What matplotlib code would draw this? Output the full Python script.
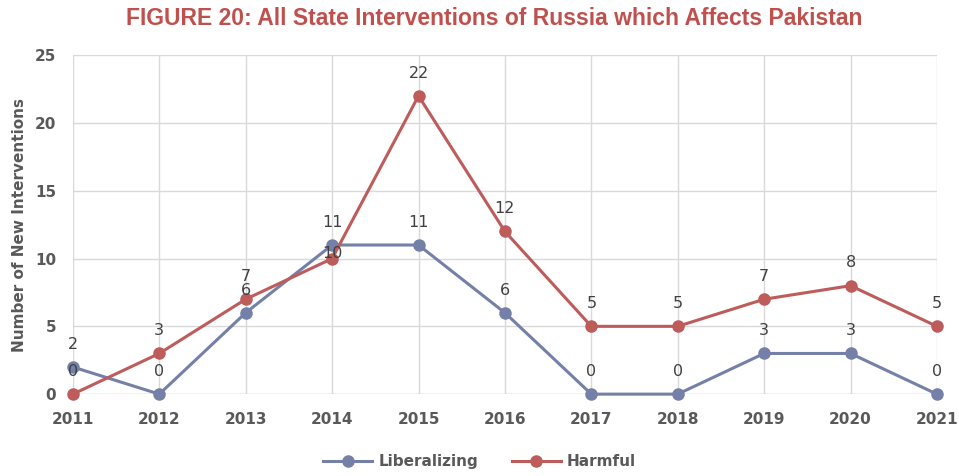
import matplotlib
matplotlib.use('Agg')
from matplotlib import pyplot as plt

years = [2011, 2012, 2013, 2014, 2015, 2016, 2017, 2018, 2019, 2020, 2021]
liberalizing = [2, 0, 6, 11, 11, 6, 0, 0, 3, 3, 0]
harmful = [0, 3, 7, 10, 22, 12, 5, 5, 7, 8, 5]

c_lib = '#7480A7'
c_harm = '#BE5B5B'
grey = '#595959'

fig = plt.figure(figsize=(9.59, 4.76), dpi=100)
ax = fig.add_axes([0.076, 0.172, 0.901, 0.712])

ax.plot(years, liberalizing, color=c_lib, lw=2.2, marker='o', ms=8, clip_on=False,
        zorder=3, label='Liberalizing')
ax.plot(years, harmful, color=c_harm, lw=2.2, marker='o', ms=8, clip_on=False,
        zorder=3, label='Harmful')

# data labels above points (Excel nudged the 2014 harmful one)
for x, y in zip(years, liberalizing):
    ax.annotate(str(y), (x, y), xytext=(0, 11), textcoords='offset points',
                ha='center', va='bottom', fontsize=11.5, color='#404040')
for x, y in zip(years, harmful):
    dy = -2 if x == 2014 else 11
    ax.annotate(str(y), (x, y), xytext=(0, dy), textcoords='offset points',
                ha='center', va='bottom', fontsize=11.5, color='#404040')

ax.set_xlim(2011, 2021)
ax.set_ylim(0, 25)
ax.set_xticks(years)
ax.set_yticks(range(0, 26, 5))
ax.grid(True, color='#D9D9D9', lw=1)
ax.set_axisbelow(True)
for s in ax.spines.values():
    s.set_visible(False)
ax.axhline(0, color='#D9D9D9', lw=1, zorder=1)
ax.tick_params(length=0, labelsize=11, labelcolor=grey)
ax.tick_params(axis='x', pad=13)
ax.tick_params(axis='y', pad=12)
for t in ax.get_xticklabels() + ax.get_yticklabels():
    t.set_fontweight('bold')

ax.set_ylabel('Number of New Interventions', fontsize=11, fontweight='bold',
              color=grey, labelpad=6)

fig.text(0.515, 0.962, 'FIGURE 20: All State Interventions of Russia which Affects Pakistan',
         ha='center', va='center', fontsize=16.5, color='#C0504D', fontweight='bold',
         family=['Liberation Sans', 'DejaVu Sans'])

leg = fig.legend(loc='center', bbox_to_anchor=(0.5, 0.03), ncol=2, frameon=False,
                 prop={'weight': 'bold', 'size': 11}, handlelength=3.2,
                 columnspacing=2.2, handletextpad=0.4)
for t in leg.get_texts():
    t.set_color(grey)

fig.savefig('out.png', dpi=100)
